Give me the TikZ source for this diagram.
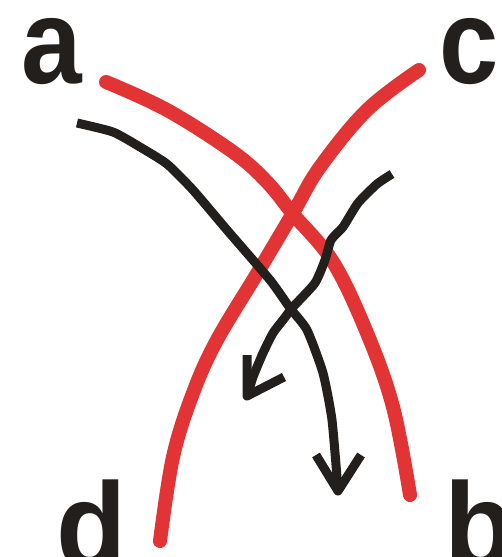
\documentclass[tikz,border=0pt]{standalone}
\usepackage{fontspec}
\setmainfont{Liberation Sans}
\definecolor{redline}{RGB}{226,52,52}
\definecolor{ink}{RGB}{35,31,28}
\begin{document}
\begin{tikzpicture}[x=1pt,y=-1pt,
  redcurve/.style={draw=redline,line width=14pt,line cap=round,line join=round},
  blackcurve/.style={draw=ink,line width=9pt,line join=round},
  label/.style={inner sep=0pt,anchor=base west,text=ink,font=\bfseries\fontsize{121}{121}\selectfont}]
\useasboundingbox (0,0) rectangle (502,557);
\fill[white] (0,0) rectangle (502,557);
% red curves
\draw[redcurve] plot[smooth,tension=0.6] coordinates {(106,82) (167,110) (233,152) (267,182) (293,214) (333,262) (367,333) (393,407) (410,495)};
\draw[redcurve] plot[smooth,tension=0.6] coordinates {(419,70) (367,110) (320,167) (293,213) (258,272) (217,340) (193,393) (173,457) (160,541)};
% black arrow a -> b
\draw[blackcurve] plot[smooth,tension=0.35] coordinates {(77,123) (113,132) (140,147) (167,164) (193,190) (227,230) (270,280) (290,308) (307,330) (323,373) (332,420) (338,490)};
\draw[blackcurve,line cap=butt] (316,455) -- (338,491) -- (361,455);
% black arrow c -> d
\draw[blackcurve] plot[smooth,tension=0.35] coordinates {(392,174) (377,184) (358,203) (343,227) (331,240) (325,260) (315,283) (293,307) (283,320) (273,333) (263,353) (253,377) (248,394)};
\draw[blackcurve,line cap=butt] (247,355) -- (247,396) -- (284,377);
% labels
\node[label] (la) at (21,83) {\scalebox{0.9}[1]{a}};
\node[label] (lc) at (439,83) {\scalebox{0.88}[1]{c}};
\node[label] (ld) at (56,567) {\scalebox{0.95}[1]{d}};
\node[label] (lb) at (444,567) {\scalebox{0.95}[1]{b}};
\end{tikzpicture}
\end{document}
